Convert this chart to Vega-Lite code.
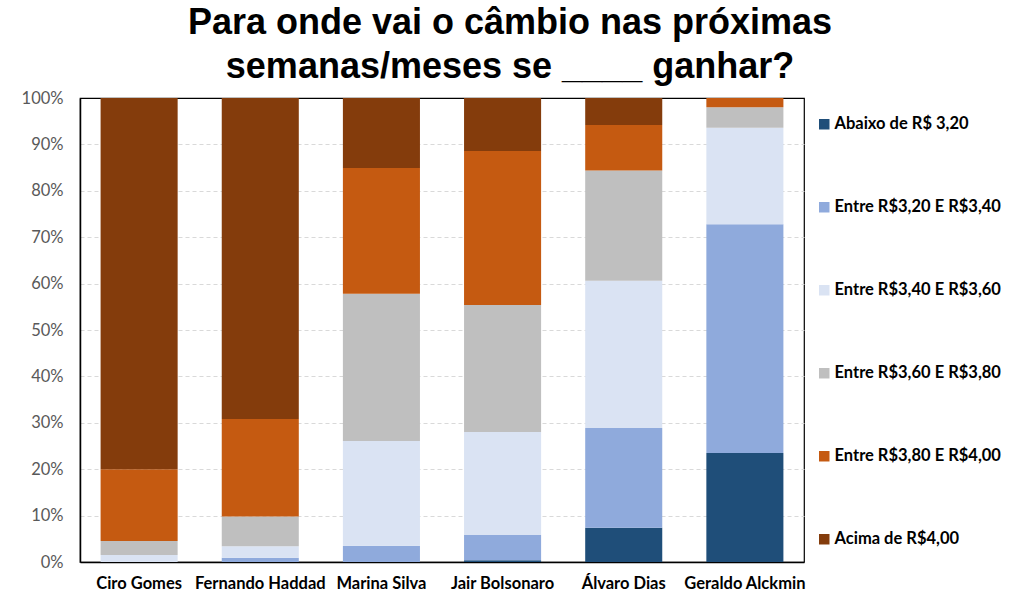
{
  "$schema": "https://vega.github.io/schema/vega-lite/v6.json",
  "width": 724,
  "height": 464,
  "autosize": {"type": "none"},
  "padding": {"left": 80, "top": 98, "right": 220, "bottom": 51},
  "background": "white",
  "title": {
    "text": ["Para onde vai o câmbio nas próximas", "semanas/meses se ____ ganhar?"],
    "font": "Liberation Sans",
    "fontSize": 36,
    "fontWeight": "bold",
    "color": "black",
    "anchor": "middle",
    "dx": 68,
    "lineHeight": 44,
    "offset": 4
  },
  "data": {
    "values": [
      {"cand": "Ciro Gomes", "faixa": "Abaixo de R$ 3,20", "k": 1, "v": 0},
      {"cand": "Ciro Gomes", "faixa": "Entre R$3,20 E R$3,40", "k": 2, "v": 0},
      {"cand": "Ciro Gomes", "faixa": "Entre R$3,40 E R$3,60", "k": 3, "v": 1.5},
      {"cand": "Ciro Gomes", "faixa": "Entre R$3,60 E R$3,80", "k": 4, "v": 3.0},
      {"cand": "Ciro Gomes", "faixa": "Entre R$3,80 E R$4,00", "k": 5, "v": 15.5},
      {"cand": "Ciro Gomes", "faixa": "Acima de R$4,00", "k": 6, "v": 80.0},
      {"cand": "Fernando Haddad", "faixa": "Abaixo de R$ 3,20", "k": 1, "v": 0},
      {"cand": "Fernando Haddad", "faixa": "Entre R$3,20 E R$3,40", "k": 2, "v": 0.9},
      {"cand": "Fernando Haddad", "faixa": "Entre R$3,40 E R$3,60", "k": 3, "v": 2.5},
      {"cand": "Fernando Haddad", "faixa": "Entre R$3,60 E R$3,80", "k": 4, "v": 6.4},
      {"cand": "Fernando Haddad", "faixa": "Entre R$3,80 E R$4,00", "k": 5, "v": 21.0},
      {"cand": "Fernando Haddad", "faixa": "Acima de R$4,00", "k": 6, "v": 69.2},
      {"cand": "Marina Silva", "faixa": "Abaixo de R$ 3,20", "k": 1, "v": 0},
      {"cand": "Marina Silva", "faixa": "Entre R$3,20 E R$3,40", "k": 2, "v": 3.5},
      {"cand": "Marina Silva", "faixa": "Entre R$3,40 E R$3,60", "k": 3, "v": 22.6},
      {"cand": "Marina Silva", "faixa": "Entre R$3,60 E R$3,80", "k": 4, "v": 31.7},
      {"cand": "Marina Silva", "faixa": "Entre R$3,80 E R$4,00", "k": 5, "v": 27.1},
      {"cand": "Marina Silva", "faixa": "Acima de R$4,00", "k": 6, "v": 15.1},
      {"cand": "Jair Bolsonaro", "faixa": "Abaixo de R$ 3,20", "k": 1, "v": 0.4},
      {"cand": "Jair Bolsonaro", "faixa": "Entre R$3,20 E R$3,40", "k": 2, "v": 5.4},
      {"cand": "Jair Bolsonaro", "faixa": "Entre R$3,40 E R$3,60", "k": 3, "v": 22.2},
      {"cand": "Jair Bolsonaro", "faixa": "Entre R$3,60 E R$3,80", "k": 4, "v": 27.4},
      {"cand": "Jair Bolsonaro", "faixa": "Entre R$3,80 E R$4,00", "k": 5, "v": 33.2},
      {"cand": "Jair Bolsonaro", "faixa": "Acima de R$4,00", "k": 6, "v": 11.4},
      {"cand": "Álvaro Dias", "faixa": "Abaixo de R$ 3,20", "k": 1, "v": 7.4},
      {"cand": "Álvaro Dias", "faixa": "Entre R$3,20 E R$3,40", "k": 2, "v": 21.5},
      {"cand": "Álvaro Dias", "faixa": "Entre R$3,40 E R$3,60", "k": 3, "v": 31.7},
      {"cand": "Álvaro Dias", "faixa": "Entre R$3,60 E R$3,80", "k": 4, "v": 23.8},
      {"cand": "Álvaro Dias", "faixa": "Entre R$3,80 E R$4,00", "k": 5, "v": 9.8},
      {"cand": "Álvaro Dias", "faixa": "Acima de R$4,00", "k": 6, "v": 5.8},
      {"cand": "Geraldo Alckmin", "faixa": "Abaixo de R$ 3,20", "k": 1, "v": 23.5},
      {"cand": "Geraldo Alckmin", "faixa": "Entre R$3,20 E R$3,40", "k": 2, "v": 49.3},
      {"cand": "Geraldo Alckmin", "faixa": "Entre R$3,40 E R$3,60", "k": 3, "v": 20.8},
      {"cand": "Geraldo Alckmin", "faixa": "Entre R$3,60 E R$3,80", "k": 4, "v": 4.4},
      {"cand": "Geraldo Alckmin", "faixa": "Entre R$3,80 E R$4,00", "k": 5, "v": 2.0},
      {"cand": "Geraldo Alckmin", "faixa": "Acima de R$4,00", "k": 6, "v": 0}
    ]
  },
  "mark": {"type": "bar"},
  "encoding": {
    "x": {
      "field": "cand",
      "type": "nominal",
      "sort": ["Ciro Gomes", "Fernando Haddad", "Marina Silva", "Jair Bolsonaro", "Álvaro Dias", "Geraldo Alckmin"],
      "scale": {"paddingInner": 0.364, "paddingOuter": 0.17},
      "axis": {
        "title": null,
        "labelAngle": 0,
        "labelFont": "Lato",
        "labelFontSize": 16.5,
        "labelFontWeight": "bold",
        "labelColor": "black",
        "labelPadding": 13,
        "ticks": false,
        "domainColor": "black",
        "domainWidth": 1.5
      }
    },
    "y": {
      "field": "v",
      "type": "quantitative",
      "stack": "normalize",
      "scale": {"domain": [0, 1]},
      "axis": {
        "title": null,
        "format": ".0%",
        "values": [0, 0.1, 0.2, 0.3, 0.4, 0.5, 0.6, 0.7, 0.8, 0.9, 1],
        "labelFont": "Lato",
        "labelFontSize": 16.5,
        "labelColor": "#595959",
        "labelPadding": 17,
        "ticks": false,
        "domainColor": "black",
        "domainWidth": 1.5,
        "gridColor": "#d9d9d9",
        "gridDash": [4, 3],
        "gridOpacity": {"condition": {"test": "datum.value >= 1", "value": 0}, "value": 1}
      }
    },
    "color": {
      "field": "faixa",
      "type": "nominal",
      "scale": {
        "domain": ["Abaixo de R$ 3,20", "Entre R$3,20 E R$3,40", "Entre R$3,40 E R$3,60", "Entre R$3,60 E R$3,80", "Entre R$3,80 E R$4,00", "Acima de R$4,00"],
        "range": ["#1F4E79", "#8FAADC", "#DAE3F3", "#BFBFBF", "#C55A11", "#843C0C"]
      },
      "legend": {
        "title": null,
        "orient": "none",
        "legendX": 736,
        "legendY": 18,
        "symbolType": "square",
        "symbolSize": 110,
        "symbolStrokeWidth": 0,
        "labelFont": "Lato",
        "labelFontSize": 16.5,
        "labelFontWeight": "bold",
        "labelColor": "black",
        "labelOffset": 2,
        "rowPadding": 66,
        "labelLimit": 300
      }
    },
    "order": {"field": "k", "type": "quantitative", "sort": "ascending"}
  },
  "config": {
    "view": {"stroke": "black", "strokeWidth": 1.2}
  }
}
